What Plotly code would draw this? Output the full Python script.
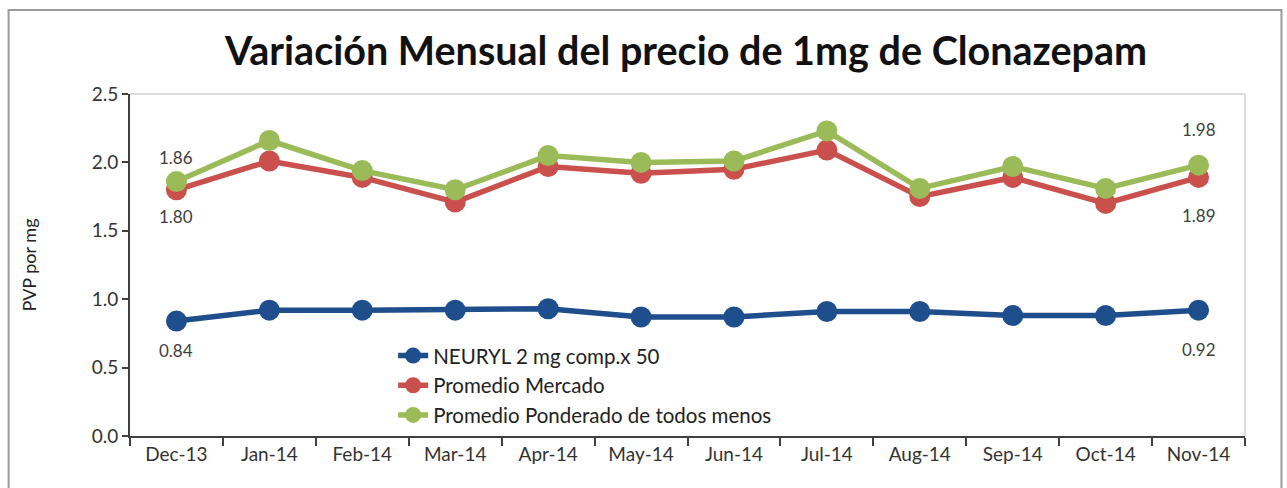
import plotly.graph_objects as go

months = ["Dec-13", "Jan-14", "Feb-14", "Mar-14", "Apr-14", "May-14",
          "Jun-14", "Jul-14", "Aug-14", "Sep-14", "Oct-14", "Nov-14"]
neuryl = [0.84, 0.92, 0.92, 0.92, 0.93, 0.87, 0.87, 0.91, 0.91, 0.88, 0.88, 0.92]
mercado = [1.80, 2.01, 1.89, 1.71, 1.97, 1.92, 1.95, 2.09, 1.75, 1.89, 1.70, 1.89]
ponderado = [1.86, 2.16, 1.94, 1.80, 2.05, 2.00, 2.01, 2.23, 1.81, 1.97, 1.81, 1.98]

names = ["NEURYL 2 mg comp.x 50", "Promedio Mercado", "Promedio Ponderado de todos menos"]
colors = ["#1F4E8C", "#C9504D", "#9BBB59"]

FONT = "Lato, 'Open Sans', sans-serif"

fig = go.Figure()
for name, vals, col in zip(names, [neuryl, mercado, ponderado], colors):
    fig.add_trace(go.Scatter(
        x=months, y=vals, name=name, mode="lines+markers",
        line=dict(color=col, width=5.5),
        marker=dict(color=col, size=21),
    ))

# data labels at first and last points (index, series, vertical offset)
labels = [
    (0, ponderado, 24), (0, mercado, -27), (0, neuryl, -29),
    (11, ponderado, 36), (11, mercado, -38), (11, neuryl, -39),
]
for idx, series, shift in labels:
    fig.add_annotation(
        x=months[idx], y=series[idx], text=f"{series[idx]:.2f}",
        showarrow=False, yshift=shift,
        font=dict(family=FONT, size=17, color="#404040"),
    )

# outer frame and light top/right plot borders
fig.add_shape(type="rect", xref="paper", yref="paper",
              x0=-0.1089, x1=1.0327, y0=-0.2, y1=1.2456,
              line=dict(color="#9a9a9a", width=2), layer="below")
fig.add_shape(type="line", xref="paper", yref="paper", x0=0, x1=1, y0=1, y1=1,
              line=dict(color="#d0d0d0", width=1.5))
fig.add_shape(type="line", xref="paper", yref="paper", x0=1, x1=1, y0=0, y1=1,
              line=dict(color="#d0d0d0", width=1.5))

fig.update_layout(
    width=1287, height=488,
    margin=dict(l=129.5, r=41.5, t=94, b=52, autoexpand=False),
    paper_bgcolor="white", plot_bgcolor="white",
    title=dict(text="<b>Variación Mensual del precio de 1mg de Clonazepam</b>",
               x=0.533, xanchor="center", y=0.895, yanchor="middle",
               font=dict(family=FONT, size=39.5, color="#111111")),
    font=dict(family=FONT, color="#404040"),
    showlegend=True,
    legend=dict(x=0.236, y=0.293, xanchor="left", yanchor="top",
                bgcolor="rgba(0,0,0,0)", font=dict(size=20.5, color="#222222"),
                itemsizing="trace", tracegroupgap=0),
    xaxis=dict(type="category", showgrid=False, showline=True, linecolor="#404040",
               linewidth=2, ticks="outside", tickson="boundaries", ticklen=8,
               tickcolor="#404040", tickwidth=2,
               tickfont=dict(family=FONT, size=19, color="#333333"),
               range=[-0.5, 11.5]),
    yaxis=dict(range=[0, 2.5], dtick=0.5, tickformat=".1f", showgrid=False,
               showline=True, linecolor="#404040", linewidth=2, ticks="outside",
               ticklen=6, tickcolor="#404040", tickwidth=2, zeroline=False,
               tickfont=dict(family=FONT, size=19, color="#333333"),
               title=dict(text="PVP por mg", standoff=50,
                          font=dict(family=FONT, size=18, color="#222222"))),
)

fig.write_html("out.html", post_script="document.body.style.margin='0';",
               config={"displayModeBar": False})
